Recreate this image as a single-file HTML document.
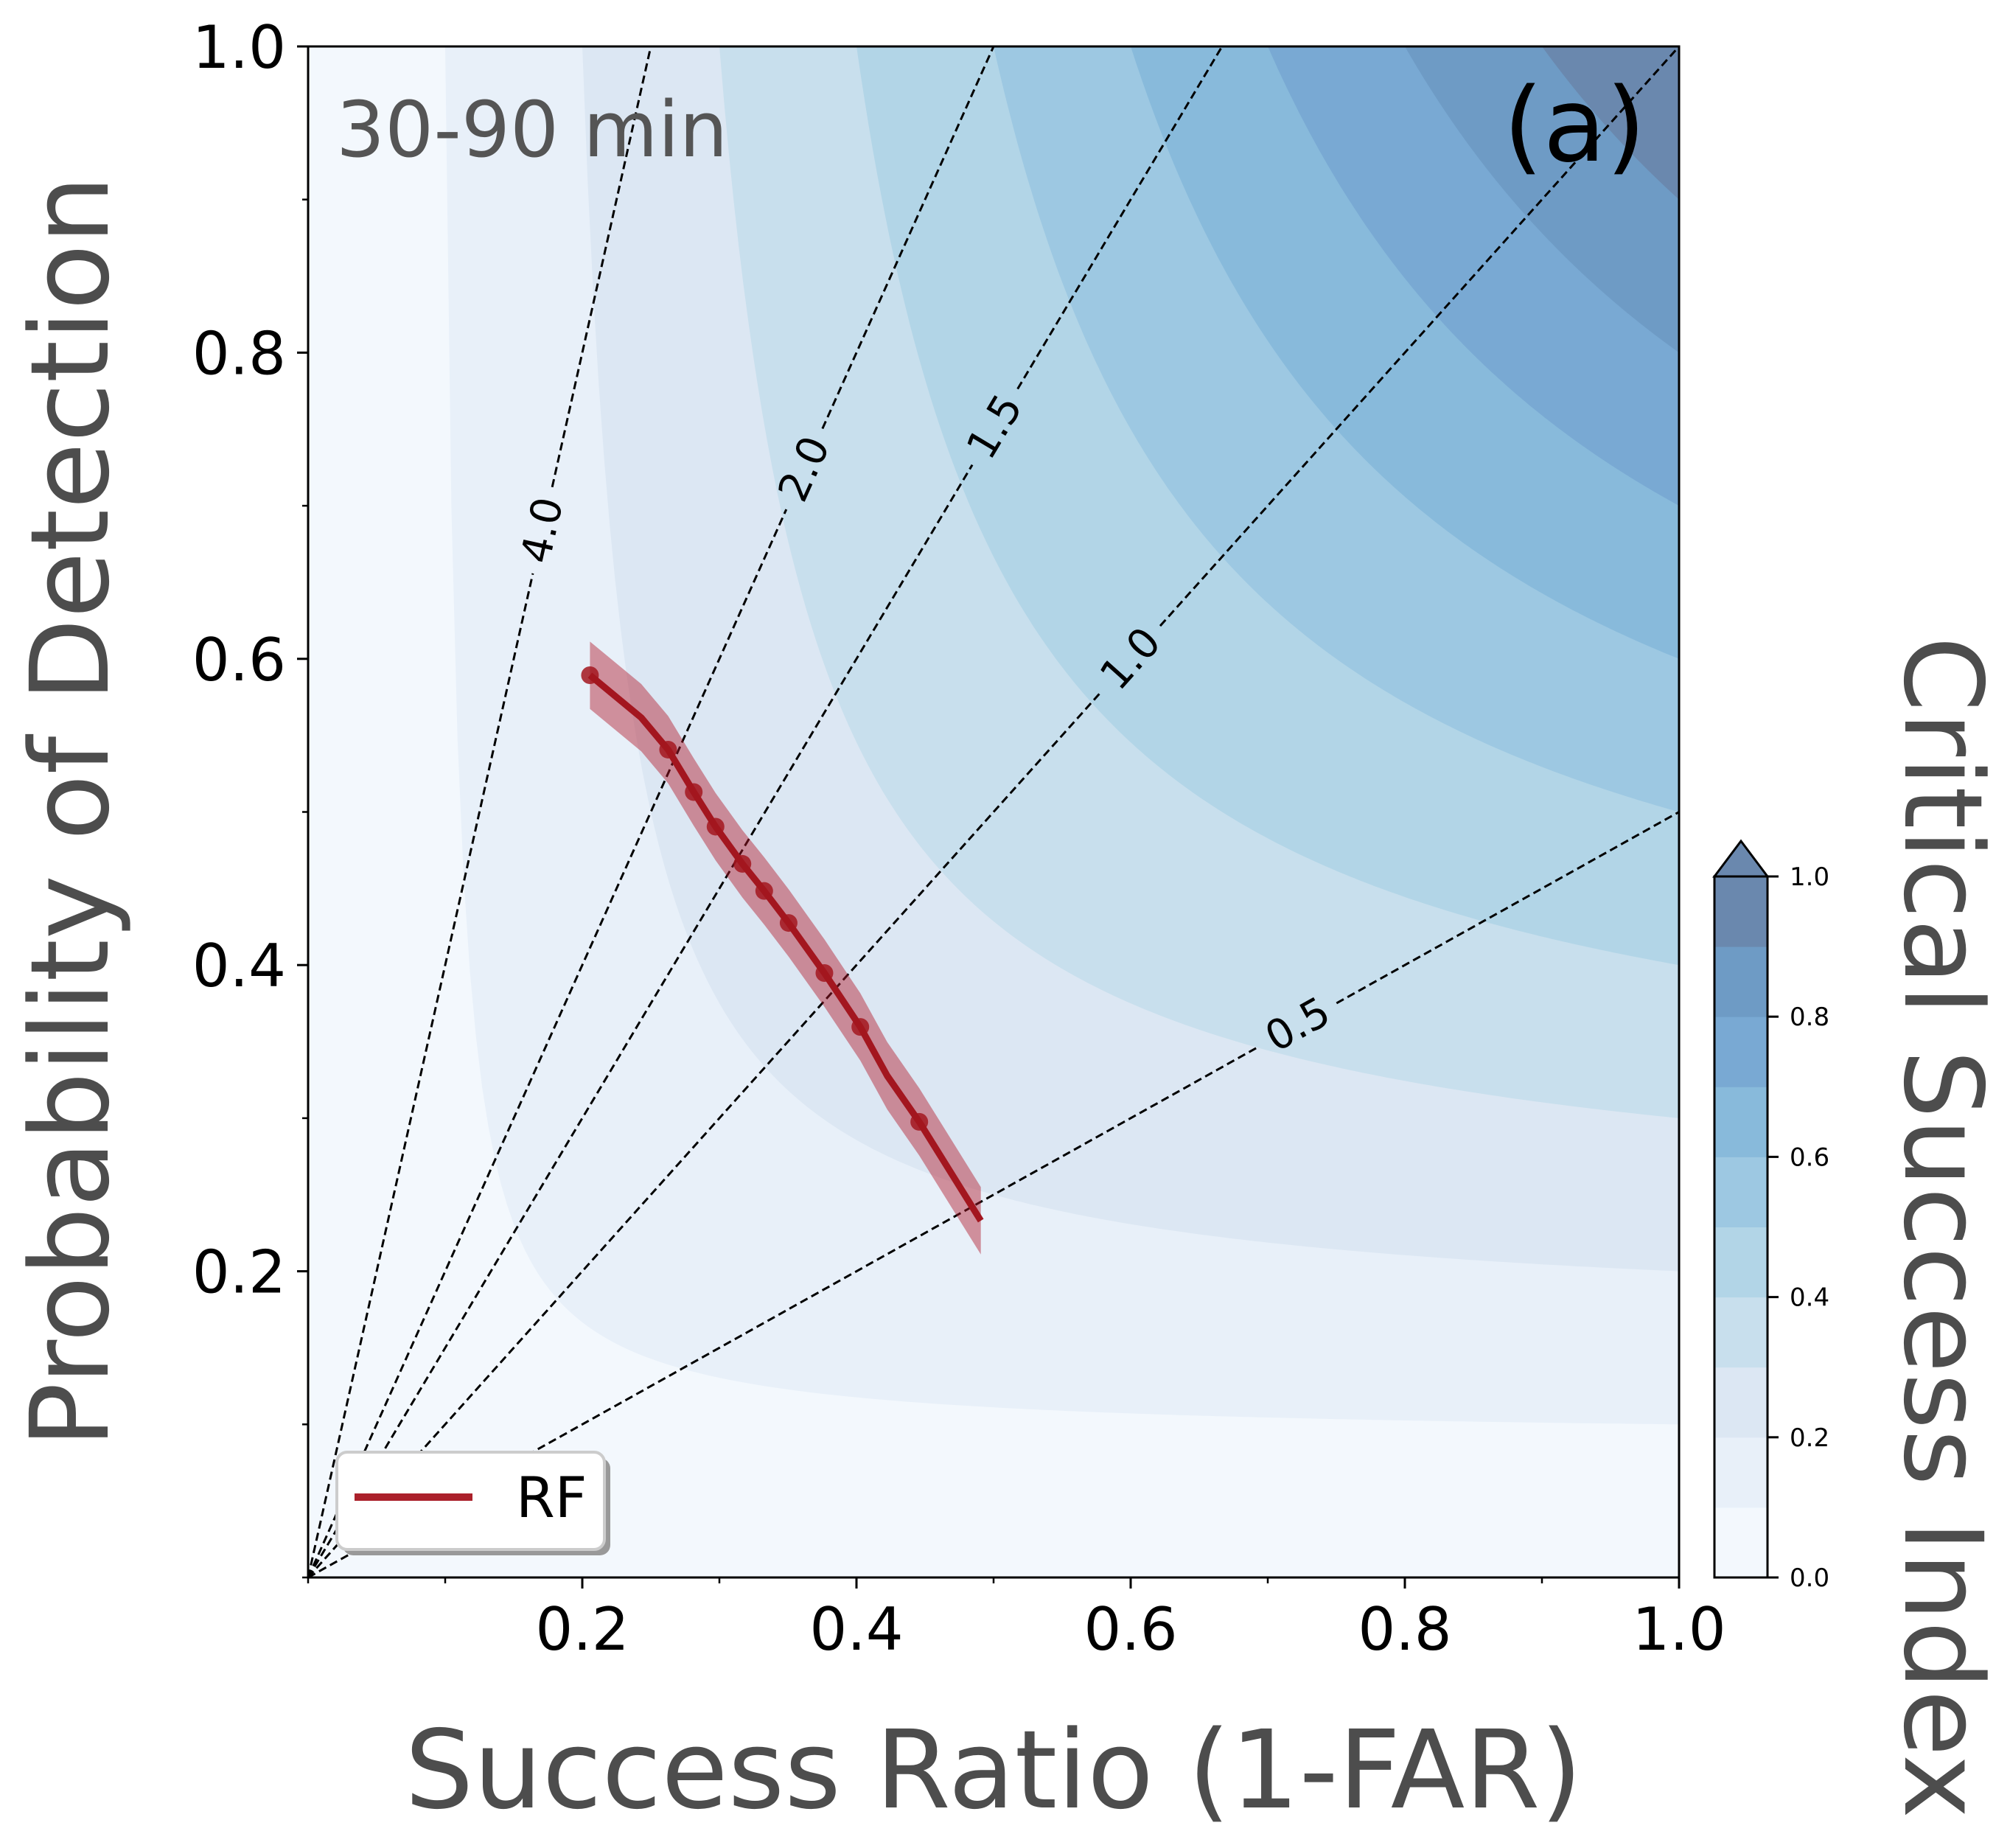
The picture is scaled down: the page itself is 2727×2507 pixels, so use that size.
<!DOCTYPE html>
<html><head><meta charset="utf-8"><style>
html,body{margin:0;padding:0;background:#fff;}
svg{display:block;font-family:"DejaVu Sans","Liberation Sans",sans-serif;}
</style></head>
<body>
<svg id="chart" width="2727" height="2507" viewBox="0 0 2727 2507" xmlns="http://www.w3.org/2000/svg">
<defs><clipPath id="pc"><rect x="418" y="63" width="1860" height="2077"/></clipPath></defs>
<g id="bg" clip-path="url(#pc)"></g>
<g id="bias" clip-path="url(#pc)"></g>
<g id="series" clip-path="url(#pc)"></g>
<g id="axes"></g>
<text x="456" y="212" font-size="104" fill="#555">30-90 min</text>
<text x="2233" y="218" font-size="139" fill="#000" text-anchor="end">(a)</text>
<g>
<rect x="465" y="1978" width="363" height="132" rx="14" fill="#999"/>
<rect x="457" y="1970" width="363" height="132" rx="14" fill="#fff" stroke="#ccc" stroke-width="4"/>
<line x1="481" y1="2031" x2="641" y2="2031" stroke="#ab212b" stroke-width="10"/>
<text x="700" y="2058" font-size="76" fill="#000">RF</text>
</g>
<text x="1348" y="2452" font-size="147" fill="#4d4d4d" text-anchor="middle">Success Ratio (1-FAR)</text>
<text transform="translate(146,1101) rotate(-90)" font-size="147" fill="#4d4d4d" text-anchor="middle">Probability of Detection</text>
<text transform="translate(2585,1665) rotate(90)" font-size="147" fill="#4d4d4d" text-anchor="middle">Critical Success Index</text>
<g id="cbar"></g>
</svg>
<script>
const srVals=[0.2056,0.243,0.2626,0.2813,0.2972,0.3168,0.3327,0.3505,0.3766,0.4028,0.4224,0.4458,0.4907];
const podVals=[0.5893,0.5616,0.5407,0.5130,0.4904,0.4661,0.4484,0.4275,0.3948,0.3596,0.3277,0.2976,0.2330];
const markerFlags=[1,0,1,1,1,1,1,1,1,1,0,1,0];
const bandHalf=[0.022,0.022,0.022,0.022,0.022,0.022,0.022,0.022,0.022,0.022,0.022,0.022,0.022];
const biasVals=[4.0,2.0,1.5,1.0,0.5];
const biasLabelSR=[0.171,0.362,0.501,0.600,0.722];
const csiLevels=[0.1,0.2,0.3,0.4,0.5,0.6,0.7,0.8,0.9];
const levelColors=["#e8f0f9","#dce7f3","#c8dfed","#b2d5e7","#9dc8e2","#88badb","#79a9d3","#6e9bc5","#6a88ae"];
const baseColor="#f3f8fd";
const xTicks=[0.2,0.4,0.6,0.8,1.0];
const xTickLabels=["0.2","0.4","0.6","0.8","1.0"];
const yTicks=[0.2,0.4,0.6,0.8,1.0];
const yTickLabels=["0.2","0.4","0.6","0.8","1.0"];
const minorTicks=[0,0.1,0.3,0.5,0.7,0.9];
const cbTicks=[0,0.2,0.4,0.6,0.8,1.0];
const cbTickLabels=["0.0","0.2","0.4","0.6","0.8","1.0"];

const NS="http://www.w3.org/2000/svg";
const X=v=>418+v*1860, Y=v=>2140-v*2077;
function mk(tag,attrs,parent){const e=document.createElementNS(NS,tag);for(const k in attrs)e.setAttribute(k,attrs[k]);parent.appendChild(e);return e;}
const bg=document.getElementById('bg');
let r=mk('rect',{x:418,y:63,width:1860,height:2077,fill:baseColor},bg);


csiLevels.forEach((c,i)=>{
  let pts=[];
  for(let k=0;k<=200;k++){const sr=c+(1-c)*k/200;const pod=1/(1/c+1-1/sr);pts.push(X(sr).toFixed(1)+','+Y(Math.min(pod,1)).toFixed(1));}
  pts.push(X(1)+','+Y(1));
  const p=mk('polygon',{points:pts.join(' '),fill:levelColors[i]},bg);
  
  
});
const bias=document.getElementById('bias');
biasVals.forEach((b,i)=>{
  const endSR=Math.min(1,1/b);
  const x0=X(0),y0=Y(0),x1=X(endSR),y1=Y(endSR*b);
  const lx=X(biasLabelSR[i]),ly=Y(biasLabelSR[i]*b);
  const L=Math.hypot(x1-x0,y1-y0),ux=(x1-x0)/L,uy=(y1-y0)/L,g=60;
  const st={stroke:'#000','stroke-width':3,'stroke-dasharray':'11,6',fill:'none'};
  const a=mk('line',Object.assign({x1:x0,y1:y0,x2:lx-ux*g,y2:ly-uy*g},st),bias);
  
  
  const c2=mk('line',Object.assign({x1:lx+ux*g,y1:ly+uy*g,x2:x1,y2:y1},st),bias);
  
  
  const ang=Math.atan2(y1-y0,x1-x0)*180/Math.PI;
  const t=mk('text',{transform:`translate(${lx},${ly}) rotate(${ang})`,'font-size':56,'text-anchor':'middle','dominant-baseline':'central',fill:'#000'},bias);
  t.textContent=b.toFixed(1);
  
  
});
const ser=document.getElementById('series');
let up=srVals.map((s,i)=>X(s)+','+Y(podVals[i]+bandHalf[i]));
let lo=srVals.map((s,i)=>X(s)+','+Y(podVals[i]-bandHalf[i])).reverse();
const band=mk('polygon',{points:up.concat(lo).join(' '),fill:'#b2182b','fill-opacity':0.45},ser);


const ln=mk('polyline',{points:srVals.map((s,i)=>X(s)+','+Y(podVals[i])).join(' '),fill:'none',stroke:'#a3161f','stroke-width':9,'stroke-linejoin':'round'},ser);


srVals.forEach((s,i)=>{if(!markerFlags[i])return;
  const m=mk('circle',{cx:X(s),cy:Y(podVals[i]),r:12,fill:'#a3161f','fill-opacity':0.85},ser);
  
  
});
const ax=document.getElementById('axes');
const fr=mk('rect',{x:418,y:63,width:1860,height:2077,fill:'none',stroke:'#000','stroke-width':3},ax);


xTicks.forEach((v,i)=>{
  const t=mk('line',{x1:X(v),y1:2140,x2:X(v),y2:2155,stroke:'#000','stroke-width':3},ax);
  
  
  const l=mk('text',{x:X(v),y:2238,'font-size':80,'text-anchor':'middle',fill:'#000'},ax);
  l.textContent=xTickLabels[i];
  
  
});
yTicks.forEach((v,i)=>{
  const t=mk('line',{x1:403,y1:Y(v),x2:418,y2:Y(v),stroke:'#000','stroke-width':3},ax);
  
  
  const l=mk('text',{x:388,y:Y(v)+29,'font-size':80,'text-anchor':'end',fill:'#000'},ax);
  l.textContent=yTickLabels[i];
  
  
});
minorTicks.forEach(v=>{
  const a=mk('line',{x1:X(v),y1:2140,x2:X(v),y2:2148,stroke:'#000','stroke-width':2.5},ax);
  
  
  const b=mk('line',{x1:410,y1:Y(v),x2:418,y2:Y(v),stroke:'#000','stroke-width':2.5},ax);
  
  
});
const cb=document.getElementById('cbar');
const CY=v=>2140-v*951;
const allCols=[baseColor].concat(levelColors);
allCols.forEach((c,i)=>{
  const s=mk('rect',{x:2326,y:CY((i+1)/10),width:72,height:95.1+0.5,fill:c},cb);
  
  
});
const ar=mk('polygon',{points:`2326,${CY(1)} 2362,1141 2398,${CY(1)}`,fill:'#6a88ae',stroke:'#000','stroke-width':3},cb);


const cf=mk('rect',{x:2326,y:CY(1),width:72,height:951,fill:'none',stroke:'#000','stroke-width':3},cb);


cbTicks.forEach((v,i)=>{
  const t=mk('line',{x1:2398,y1:CY(v),x2:2413,y2:CY(v),stroke:'#000','stroke-width':3},cb);
  
  
  const l=mk('text',{x:2428,y:CY(v)+12,'font-size':34,fill:'#000'},cb);
  l.textContent=cbTickLabels[i];
  
  
});
</script>
</body></html>
